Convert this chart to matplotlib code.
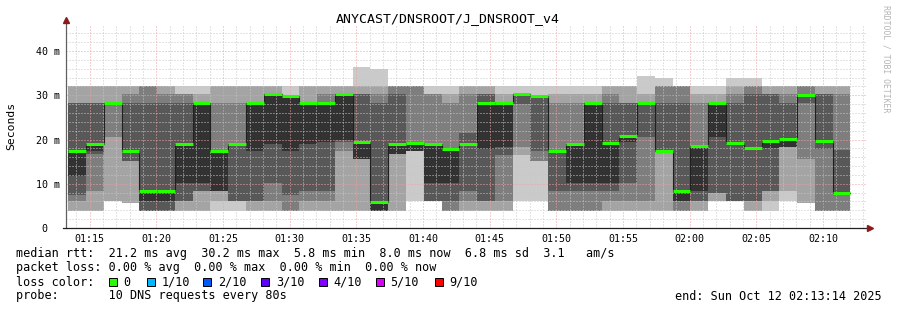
import datetime as dt
import matplotlib
matplotlib.use('Agg')
import matplotlib.pyplot as plt
import matplotlib.dates as mdates
from matplotlib.ticker import MultipleLocator, FuncFormatter
from matplotlib.patches import Rectangle

# one 80 s round of 10 DNS pings per bin, rtt sorted fastest -> slowest (ms)
ping_1 = [3.9, 3.9, 6.0, 5.6, 3.9, 3.9, 3.9, 3.9, 3.9, 3.9, 3.9, 3.9, 3.9, 3.9, 3.9,
          3.9, 3.9, 3.9, 3.9, 6.0, 6.0, 3.9, 3.9, 3.9, 3.9, 6.0, 6.0, 3.9, 3.9, 3.9,
          3.9, 3.9, 3.9, 3.9, 3.9, 3.9, 6.0, 6.0, 3.9, 3.9, 6.0, 5.6, 3.9, 3.9]
ping_2 = [3.9, 3.9, 6.0, 5.6, 3.9, 3.9, 3.9, 3.9, 6.0, 6.0, 3.9, 3.9, 3.9, 3.9, 3.9,
          3.9, 3.9, 3.9, 3.9, 17.3, 6.0, 3.9, 3.9, 3.9, 3.9, 16.5, 15.1, 3.9, 3.9, 3.9,
          3.9, 3.9, 3.9, 3.9, 3.9, 3.9, 6.0, 6.0, 3.9, 6.0, 8.3, 5.6, 3.9, 3.9]
ping_3 = [6.0, 8.3, 20.5, 15.1, 3.9, 3.9, 6.0, 8.3, 8.3, 6.0, 6.0, 6.0, 3.9, 6.0, 6.0,
          17.5, 15.5, 3.9, 16.7, 17.3, 6.0, 3.9, 6.0, 6.0, 6.0, 18.3, 15.1, 3.9, 3.9, 3.9,
          6.0, 6.0, 6.0, 17.3, 3.9, 6.0, 8.0, 6.0, 6.0, 8.3, 18.4, 15.5, 3.9, 3.9]
ping_4 = [7.5, 16.8, 28.3, 15.1, 3.9, 3.9, 6.0, 8.3, 8.3, 6.0, 6.0, 10.1, 7.5, 8.3, 8.3,
          19.5, 15.5, 3.9, 16.7, 17.3, 6.0, 6.0, 8.3, 6.0, 16.5, 28.0, 17.3, 8.3, 8.3, 8.3,
          8.3, 10.1, 20.5, 17.3, 6.0, 6.0, 8.0, 6.0, 6.0, 8.3, 18.4, 28.3, 17.8, 8.0]
ping_5 = [11.7, 17.5, 28.3, 17.3, 6.0, 6.0, 10.1, 10.1, 8.3, 18.9, 17.3, 18.9, 17.3, 18.9, 19.5,
          20.0, 15.5, 3.9, 16.7, 17.3, 10.1, 10.1, 18.9, 17.8, 18.3, 30.2, 29.8, 17.3, 10.1, 10.1,
          10.1, 19.5, 28.3, 17.3, 6.0, 8.3, 20.5, 19.2, 18.0, 18.0, 18.4, 30.0, 19.6, 8.0]
median_ms = [17.3, 18.9, 28.3, 17.3, 8.3, 8.3, 18.9, 28.3, 17.3, 18.9, 28.3, 30.2, 29.8, 28.3, 28.3,
             30.2, 19.4, 5.8, 18.9, 19.2, 18.9, 17.8, 18.9, 28.3, 28.3, 30.2, 29.8, 17.3, 18.9, 28.3,
             19.2, 20.8, 28.3, 17.3, 8.3, 18.6, 28.3, 19.2, 18.0, 19.6, 20.2, 30.0, 19.6, 8.0]
ping_7 = [28.3, 28.3, 28.3, 28.3, 28.3, 28.3, 28.3, 28.3, 17.3, 18.9, 28.3, 30.2, 29.8, 28.3, 28.3,
          30.2, 30.2, 28.3, 30.2, 19.2, 18.9, 17.8, 21.5, 30.2, 28.3, 30.2, 29.8, 17.3, 18.9, 28.3,
          28.3, 28.3, 28.3, 28.3, 28.3, 18.6, 28.3, 28.3, 30.2, 30.2, 28.3, 30.0, 30.2, 17.7]
ping_8 = [28.3, 28.3, 28.3, 30.2, 32.1, 30.2, 30.2, 28.3, 28.3, 28.3, 28.3, 30.2, 29.8, 28.3, 30.2,
          30.2, 30.2, 30.2, 32.1, 32.1, 30.2, 28.3, 30.2, 30.2, 28.3, 30.2, 29.8, 28.3, 28.3, 28.3,
          30.2, 28.3, 28.3, 32.1, 32.1, 28.3, 28.3, 30.2, 32.1, 30.2, 30.2, 32.1, 30.2, 30.2]
ping_9 = [32.1, 32.1, 32.1, 32.1, 32.1, 32.1, 30.2, 30.2, 32.1, 32.1, 32.1, 32.1, 29.8, 32.1, 32.1,
          32.1, 32.1, 32.1, 32.1, 32.1, 30.2, 30.2, 32.1, 32.1, 30.2, 30.2, 29.8, 30.2, 30.2, 30.2,
          32.1, 32.1, 30.2, 32.1, 32.1, 30.2, 30.2, 32.1, 32.1, 32.1, 32.1, 32.1, 32.1, 32.1]
ping_10 = [32.1, 32.1, 32.1, 32.1, 32.1, 32.1, 32.1, 32.1, 32.1, 32.1, 32.1, 32.1, 32.1, 32.1, 32.1,
           32.1, 36.4, 36.0, 32.1, 32.1, 32.1, 32.1, 32.1, 32.1, 32.1, 32.1, 32.1, 32.1, 32.1, 32.1,
           32.1, 32.1, 34.4, 34.0, 32.1, 32.1, 32.1, 34.0, 34.0, 32.1, 32.1, 32.1, 32.1, 32.1]

loss_labels = ['0', '1/10', '2/10', '3/10', '4/10', '5/10', '9/10']
loss_colors = ['#26ff00', '#00b8ff', '#0059ff', '#5e00ff', '#7e00ff', '#dd00ff', '#ff0000']

graph_start = dt.datetime(2025, 10, 12, 1, 13, 14)
graph_end = dt.datetime(2025, 10, 12, 2, 13, 14)
first_bin = graph_start + dt.timedelta(seconds=10)
step = dt.timedelta(seconds=80)

n = len(median_ms)
edges = [first_bin + i * step for i in range(n + 1)]
ex = mdates.date2num(edges)

pings = [ping_1, ping_2, ping_3, ping_4, ping_5, median_ms, ping_7, ping_8, ping_9, ping_10]
# smokeping grey shades, outer pair lightest
shades = ['#cacaca', '#a4a4a4', '#7e7e7e', '#585858', '#323232']

W, H = 897, 310
fig = plt.figure(figsize=(W / 100, H / 100), dpi=100)
fig.patch.set_facecolor('white')
ax = fig.add_axes([66 / W, (H - 228) / H, 800 / W, 203 / H])

for i, shade in enumerate(shades):
    lo = pings[i] + [pings[i][-1]]
    hi = pings[9 - i] + [pings[9 - i][-1]]
    ax.fill_between(ex, lo, hi, step='post', color=shade, linewidth=0, zorder=1)

# median: dark step line plus loss-coloured segments
med_ext = median_ms + [median_ms[-1]]
ax.step(ex, med_ext, where='post', color='#202020', lw=0.8, zorder=3)
ax.hlines(median_ms, ex[:-1], ex[1:], color=loss_colors[0], lw=2.2, zorder=4)

ax.set_xlim(mdates.date2num(graph_start), mdates.date2num(graph_end))
ax.set_ylim(0, 45.9)

ax.xaxis.set_major_locator(mdates.MinuteLocator(byminute=range(0, 60, 5)))
ax.xaxis.set_minor_locator(mdates.MinuteLocator())
ax.xaxis.set_major_formatter(mdates.DateFormatter('%H:%M'))
ax.yaxis.set_major_locator(MultipleLocator(10))
ax.yaxis.set_minor_locator(MultipleLocator(2))
ax.yaxis.set_major_formatter(FuncFormatter(lambda v, p: '0  ' if v == 0 else '%d m' % v))

ax.set_axisbelow(False)
ax.grid(which='minor', color='#c8c8c8', lw=0.72, ls=(0, (1, 2)))
ax.grid(which='major', color='#f0a0a0', lw=0.72, ls=(0, (1, 2)))

ax.tick_params(which='both', length=0)
ax.tick_params(axis='x', pad=4, labelsize=7.2)
ax.tick_params(axis='y', pad=4.3, labelsize=7.2)
for lab in ax.get_xticklabels() + ax.get_yticklabels():
    lab.set_family('DejaVu Sans Mono')

for s in ['top', 'right', 'left', 'bottom']:
    ax.spines[s].set_visible(False)
ax.plot([0, 0], [0, 1 + 5 / 203], transform=ax.transAxes, color='#606060', lw=0.9,
        clip_on=False, zorder=5)
ax.plot([-3 / 800, 1 + 3 / 800], [0, 0], transform=ax.transAxes, color='#202020', lw=0.9,
        clip_on=False, zorder=5)
ax.plot([0], [1 + 5 / 203], marker='^', ms=4, color='#8b1a1a', transform=ax.transAxes,
        clip_on=False, zorder=6)
ax.plot([1 + 4 / 800], [0], marker='>', ms=4, color='#8b1a1a', transform=ax.transAxes,
        clip_on=False, zorder=6)

mono = 'DejaVu Sans Mono'
fig.text(448 / W, 1 - 19 / H, 'ANYCAST/DNSROOT/J_DNSROOT_v4', ha='center', va='center',
         family=mono, fontsize=9.5)
fig.text(11 / W, 1 - 126 / H, 'Seconds', rotation=90, ha='center', va='center',
         family=mono, fontsize=8.2)
fig.text(886 / W, 1 - 59 / H, 'RRDTOOL / TOBI OETIKER', rotation=270, ha='center',
         va='center', family=mono, fontsize=5.9, color='#b4b4b4')

lines = [
    (254, 'median rtt:  21.2 ms avg  30.2 ms max  5.8 ms min  8.0 ms now  6.8 ms sd  3.1   am/s'),
    (268, 'packet loss: 0.00 % avg  0.00 % max  0.00 % min  0.00 % now'),
    (282, 'loss color:'),
    (296, 'probe:       10 DNS requests every 80s'),
]
for y, txt in lines:
    fig.text(16 / W, 1 - y / H, txt, ha='left', va='center', family=mono, fontsize=8.5)

box_x = [108.7, 146.7, 203.3, 261.3, 318.7, 376, 435]
for bx, lab, col in zip(box_x, loss_labels, loss_colors):
    fig.patches.append(Rectangle((bx / W, 1 - 286 / H), 8 / W, 8 / H, transform=fig.transFigure,
                                 facecolor=col, edgecolor='#000000', lw=0.7))
    fig.text((bx + 14.5) / W, 1 - 282 / H, lab, ha='left', va='center', family=mono, fontsize=8.5)

fig.text(882 / W, 1 - 296 / H, 'end: Sun Oct 12 02:13:14 2025', ha='right', va='center',
         family=mono, fontsize=8.5)

fig.savefig('out.png', dpi=100)
